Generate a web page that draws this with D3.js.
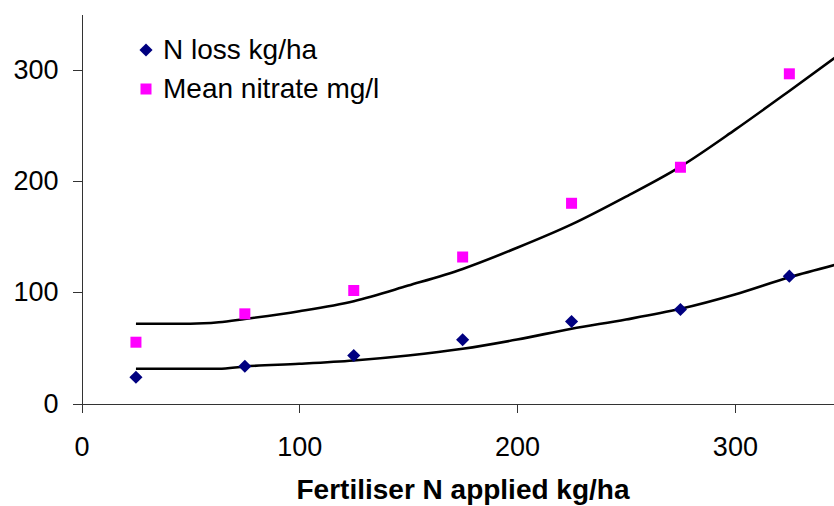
<!DOCTYPE html>
<html>
<head>
    <title>Fertiliser N - D3.js</title>
    <script src="https://d3js.org/d3.v7.min.js"></script>
    <style>
        body { margin: 0; background: #fff; }
        svg { display: block; font-family: "Liberation Sans", Arial, sans-serif; }
        .axis path, .axis line { stroke: #333; stroke-width: 1; shape-rendering: crispEdges; }
        .axis text { font-size: 27px; fill: #000; font-family: "Liberation Sans", Arial, sans-serif; }
        .trend { fill: none; stroke: #000; stroke-width: 2.6; }
        .legend text { font-size: 28px; fill: #000; }
        .axis-title { font-size: 28px; font-weight: bold; text-anchor: middle; }
    </style>
</head>
<body>
<div id="chart"></div>
<script>
    // valeurs
    const fertN = [25, 75, 125, 175, 225, 275, 325];
    const nLoss = [23.6, 33.5, 43.2, 57.3, 73.7, 84.5, 114.5];
    const meanNitrate = [55.1, 80.6, 101.6, 131.7, 180, 212.4, 296.4];

    // courbes de tendance (points lus)
    const trendX = [25, 50, 63, 75, 100, 125, 150, 175, 200, 225, 250, 275, 300, 325, 346];
    const nLossTrend = [31.2, 31.2, 31.2, 33.3, 35.7, 38.7, 43.2, 49.2, 57.5, 67.2, 75.5, 85.1, 98, 113.5, 124.7];
    const nitrateTrend = [71.7, 71.7, 73, 76, 83, 92, 106, 121, 140, 161, 186, 213, 246, 281, 311];

    const xTicks = [0, 100, 200, 300];
    const yTicks = [0, 100, 200, 300];

    const width = 834, height = 506;

    const svg = d3.select("#chart").append("svg")
        .attr("width", width)
        .attr("height", height);

    const x = d3.scaleLinear().domain([0, 350]).range([81.5, 81.5 + 350 * 2.178]);
    const y = d3.scaleLinear().domain([0, 350]).range([403.5, 403.5 - 350 * 1.1123]);

    // axes
    svg.append("g")
        .attr("class", "axis")
        .attr("transform", `translate(0,${y(0)})`)
        .call(d3.axisBottom(x).tickValues(xTicks).tickSize(9).tickSizeOuter(0).tickPadding(24));

    svg.append("g")
        .attr("class", "axis")
        .attr("transform", `translate(${x(0)},0)`)
        .call(d3.axisLeft(y).tickValues(yTicks).tickSize(9).tickSizeOuter(0).tickPadding(14));

    // courbes
    function trendLine(vals) {
        return d3.line()
            .x((d, i) => x(trendX[i]))
            .y(d => y(d))
            .curve(d3.curveMonotoneX)(vals);
    }
    svg.append("path").attr("class", "trend").attr("d", trendLine(nitrateTrend));
    svg.append("path").attr("class", "trend").attr("d", trendLine(nLossTrend));

    // points
    const diamond = d3.symbol().type(d3.symbolDiamond2).size(110);
    svg.selectAll(".nloss")
        .data(nLoss)
        .enter().append("path")
        .attr("class", "nloss")
        .attr("d", diamond)
        .attr("transform", (d, i) => `translate(${x(fertN[i])},${y(d)})`)
        .attr("fill", "#000080");

    svg.selectAll(".nitrate")
        .data(meanNitrate)
        .enter().append("rect")
        .attr("class", "nitrate")
        .attr("x", (d, i) => x(fertN[i]) - 5.5)
        .attr("y", d => y(d) - 5.5)
        .attr("width", 11)
        .attr("height", 11)
        .attr("fill", "#ff00ff");

    // legende
    const legend = svg.append("g").attr("class", "legend");
    legend.append("path")
        .attr("d", diamond)
        .attr("transform", "translate(146,50)")
        .attr("fill", "#000080");
    legend.append("text").attr("x", 163).attr("y", 59).text("N loss kg/ha");
    legend.append("rect")
        .attr("x", 140.5).attr("y", 83.5).attr("width", 11).attr("height", 11)
        .attr("fill", "#ff00ff");
    legend.append("text").attr("x", 163).attr("y", 98).text("Mean nitrate mg/l");

    // titre axe x
    svg.append("text")
        .attr("class", "axis-title")
        .attr("x", 463)
        .attr("y", 499)
        .text("Fertiliser N applied kg/ha");
</script>
</body>
</html>
